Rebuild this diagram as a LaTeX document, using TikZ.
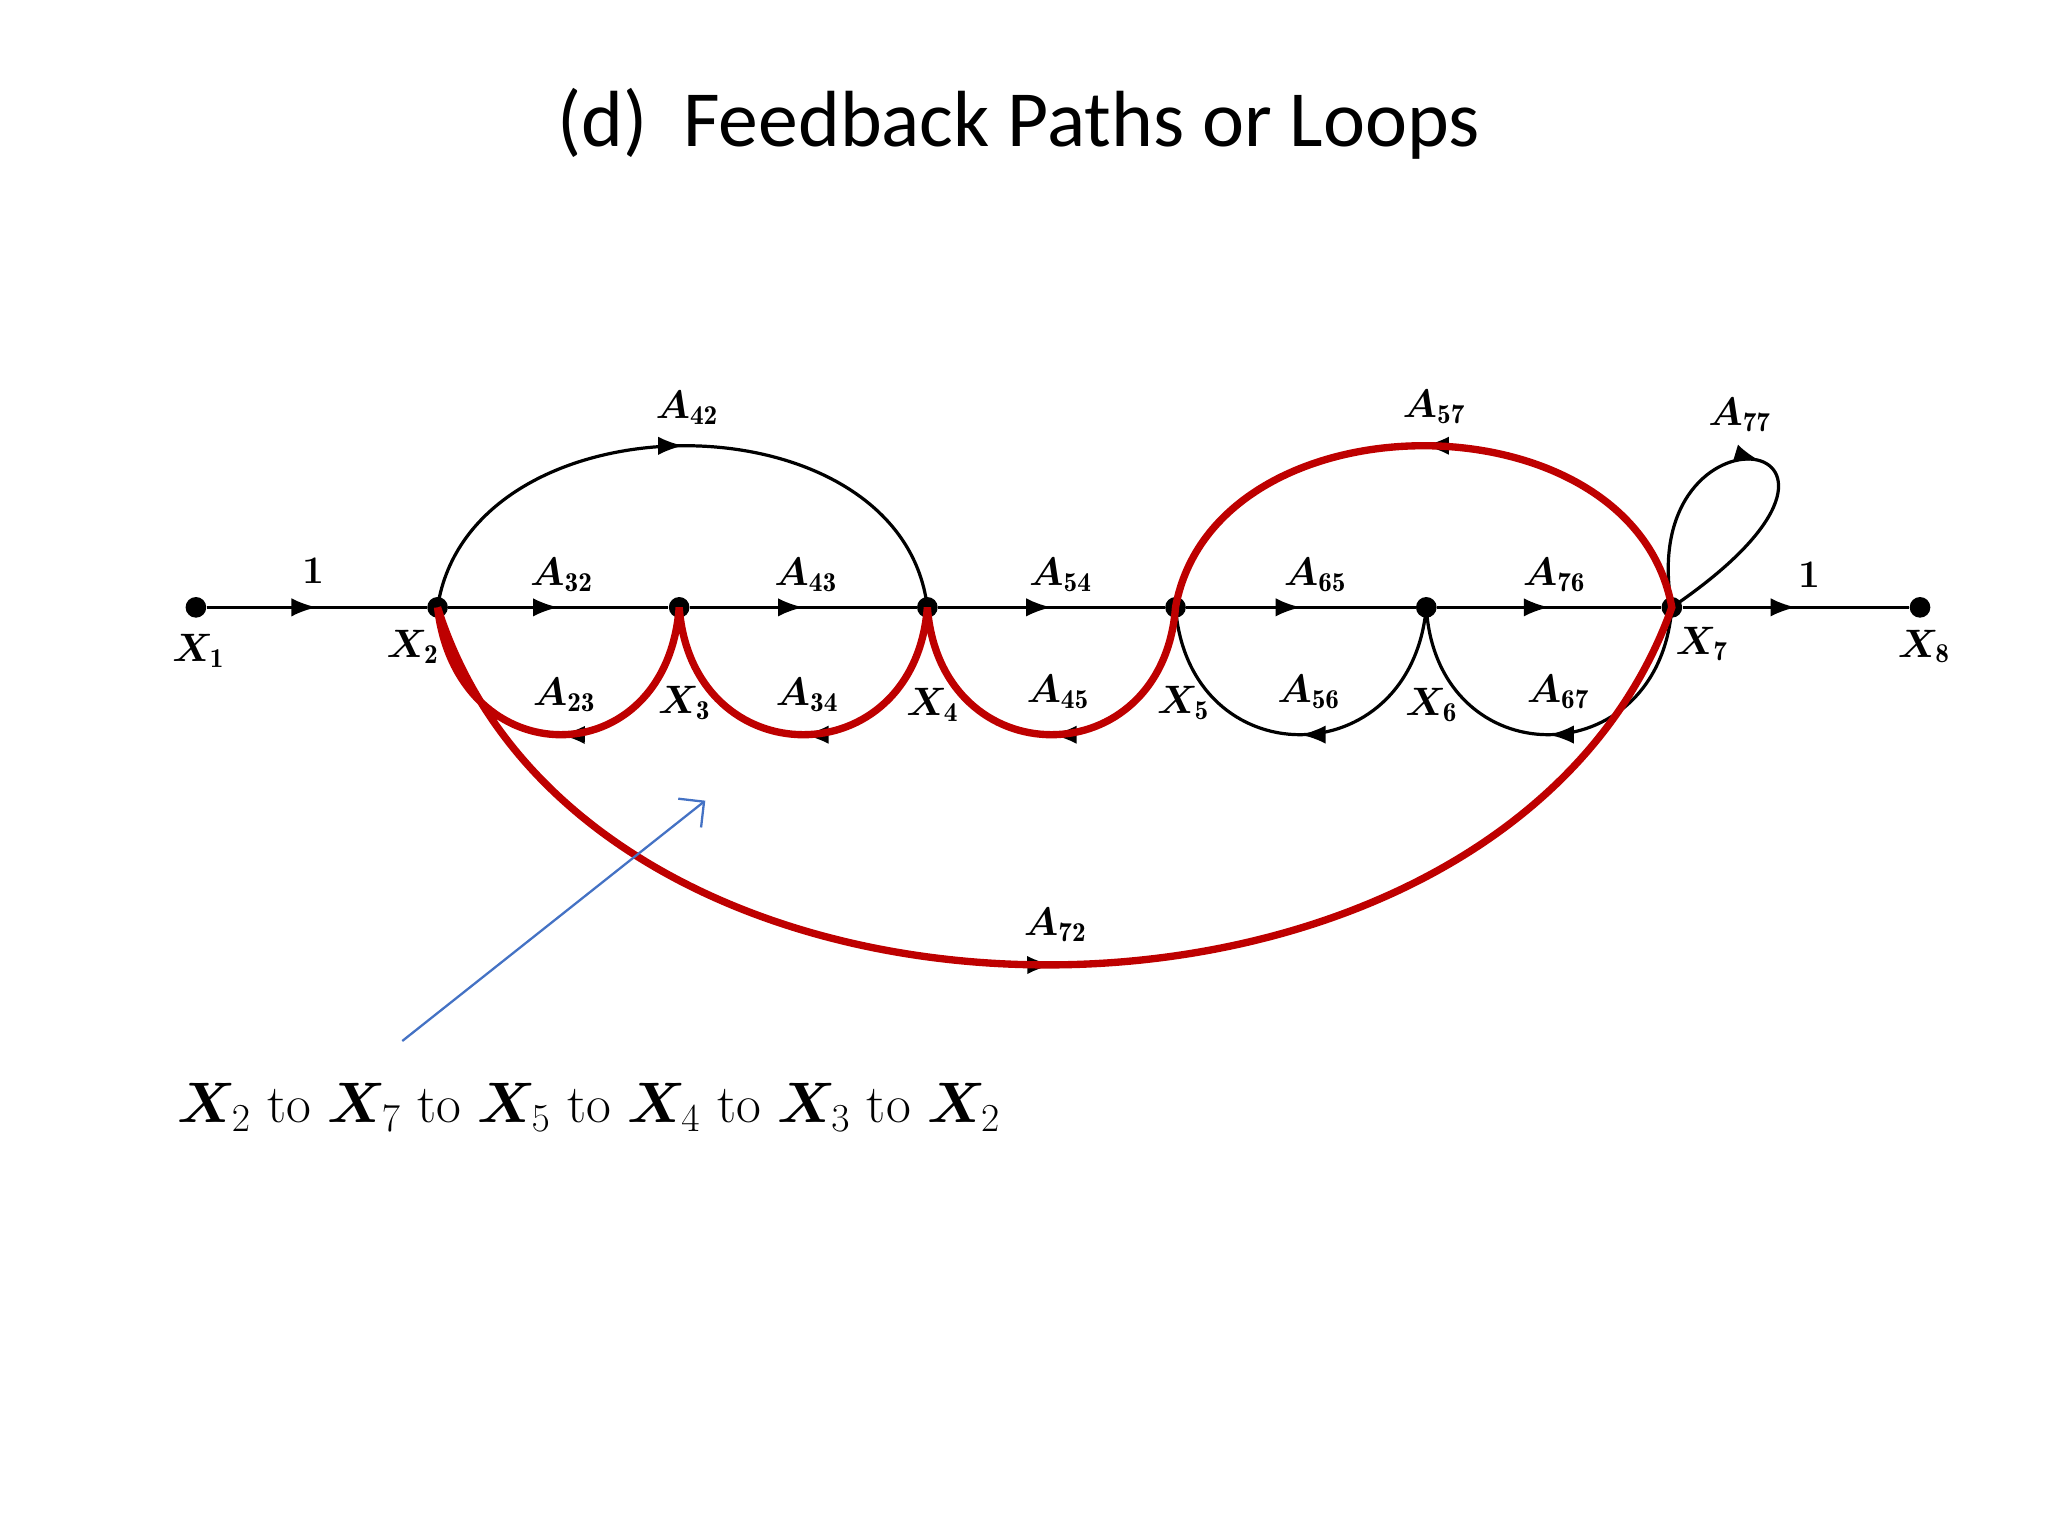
\documentclass[tikz,border=0pt]{standalone}
\usepackage{amsmath,bm}
\usepackage{fontspec}
\newfontfamily\titlefont{Carlito}
\usetikzlibrary{arrows.meta,decorations.markings}
\let\boldsymbol\bm
\begin{document}
\begin{tikzpicture}[x=0.02cm,y=-0.02cm,
  dot/.style={circle,fill=black,inner sep=0pt,minimum size=9pt},
  br/.style={line width=1.4pt,postaction={decorate},decoration={markings,mark=at position 0.5 with {\arrow{Latex[length=11pt,width=8pt]}}}},
  lab/.style={font=\fontsize{17}{17}\selectfont\bfseries},
  red/.style={line width=3.2pt,draw={rgb,255:red,190;green,0;blue,0}}]
\useasboundingbox (0,0) rectangle (1568,1176);
\node[font=\titlefont\fontsize{34.7}{35}\selectfont] (title) at (780,95) {(d)\ \ Feedback Paths or Loops};
\foreach \n/\x in {1/150,2/335,3/520,4/710,5/900,6/1092,7/1280,8/1470}
  \node[dot] (x\n) at (\x,465) {};
\draw[br] (x1) -- (x2);
\draw[br] (x2) -- (x3);
\draw[br] (x3) -- (x4);
\draw[br] (x4) -- (x5);
\draw[br] (x5) -- (x6);
\draw[br] (x6) -- (x7);
\draw[br] (x7) -- (x8);
\draw[br] (x2.center) .. controls (360,300) and (690,300) .. (x4.center);
\draw[br] (x7.center) .. controls (1250,300) and (930,300) .. (x5.center);
\draw[br] (x7.center) .. controls (1250,298) and (1478,330) .. (x7.center);
\draw[br] (x3.center) .. controls (510,595) and (350,595) .. (x2.center);
\draw[br] (x4.center) .. controls (700,595) and (530,595) .. (x3.center);
\draw[br] (x5.center) .. controls (890,595) and (720,595) .. (x4.center);
\draw[br] (x6.center) .. controls (1080,595) and (910,595) .. (x5.center);
\draw[br] (x7.center) .. controls (1270,595) and (1100,595) .. (x6.center);
\draw[br] (x2.center) .. controls (450,830) and (1150,830) .. (x7.center);
% red loop
\draw[red] (x2.center) .. controls (450,830) and (1150,830) .. (x7.center)
  .. controls (1250,300) and (930,300) .. (x5.center)
  .. controls (890,595) and (720,595) .. (x4.center)
  .. controls (700,595) and (530,595) .. (x3.center)
  .. controls (510,595) and (350,595) .. (x2.center);
% labels
\node[lab] (l1) at (240,437) {1};
\node[lab] (l32) at (430,440) {$\boldsymbol{A}_{\mathbf{32}}$};
\node[lab] (l43) at (617,440) {$\boldsymbol{A}_{\mathbf{43}}$};
\node[lab] (l54) at (812,440) {$\boldsymbol{A}_{\mathbf{54}}$};
\node[lab] (l65) at (1007,440) {$\boldsymbol{A}_{\mathbf{65}}$};
\node[lab] (l76) at (1190,440) {$\boldsymbol{A}_{\mathbf{76}}$};
\node[lab] (l8) at (1385,440) {1};
\node[lab] (l42) at (526,312) {$\boldsymbol{A}_{\mathbf{42}}$};
\node[lab] (l57) at (1098,312) {$\boldsymbol{A}_{\mathbf{57}}$};
\node[lab] (l77) at (1332,318) {$\boldsymbol{A}_{\mathbf{77}}$};
\node[lab] (l23) at (432,532) {$\boldsymbol{A}_{\mathbf{23}}$};
\node[lab] (l34) at (618,532) {$\boldsymbol{A}_{\mathbf{34}}$};
\node[lab] (l45) at (810,530) {$\boldsymbol{A}_{\mathbf{45}}$};
\node[lab] (l56) at (1002,530) {$\boldsymbol{A}_{\mathbf{56}}$};
\node[lab] (l67) at (1193,530) {$\boldsymbol{A}_{\mathbf{67}}$};
\node[lab] (l72) at (808,708) {$\boldsymbol{A}_{\mathbf{72}}$};
\node[lab] (n1) at (152,498) {$\boldsymbol{X}_{\mathbf 1}$};
\node[lab] (n2) at (316,495) {$\boldsymbol{X}_{\mathbf 2}$};
\node[lab] (n3) at (524,538) {$\boldsymbol{X}_{\mathbf 3}$};
\node[lab] (n4) at (714,540) {$\boldsymbol{X}_{\mathbf 4}$};
\node[lab] (n5) at (906,538) {$\boldsymbol{X}_{\mathbf 5}$};
\node[lab] (n6) at (1096,540) {$\boldsymbol{X}_{\mathbf 6}$};
\node[lab] (n7) at (1303,493) {$\boldsymbol{X}_{\mathbf 7}$};
\node[lab] (n8) at (1473,495) {$\boldsymbol{X}_{\mathbf 8}$};
% annotation
\coordinate (as) at (308,797);
\coordinate (ae) at (540,613);
\draw[-{Straight Barb[length=8pt]},line width=1pt,draw={rgb,255:red,68;green,114;blue,196}] (as) -- (ae);
\node[font=\fontsize{23.5}{24}\selectfont,anchor=west] (cap) at (130,848)
 {$\bm{X}_2$ to $\bm{X}_7$ to $\bm{X}_5$ to $\bm{X}_4$ to $\bm{X}_3$ to $\bm{X}_2$};
\end{tikzpicture}
\end{document}
